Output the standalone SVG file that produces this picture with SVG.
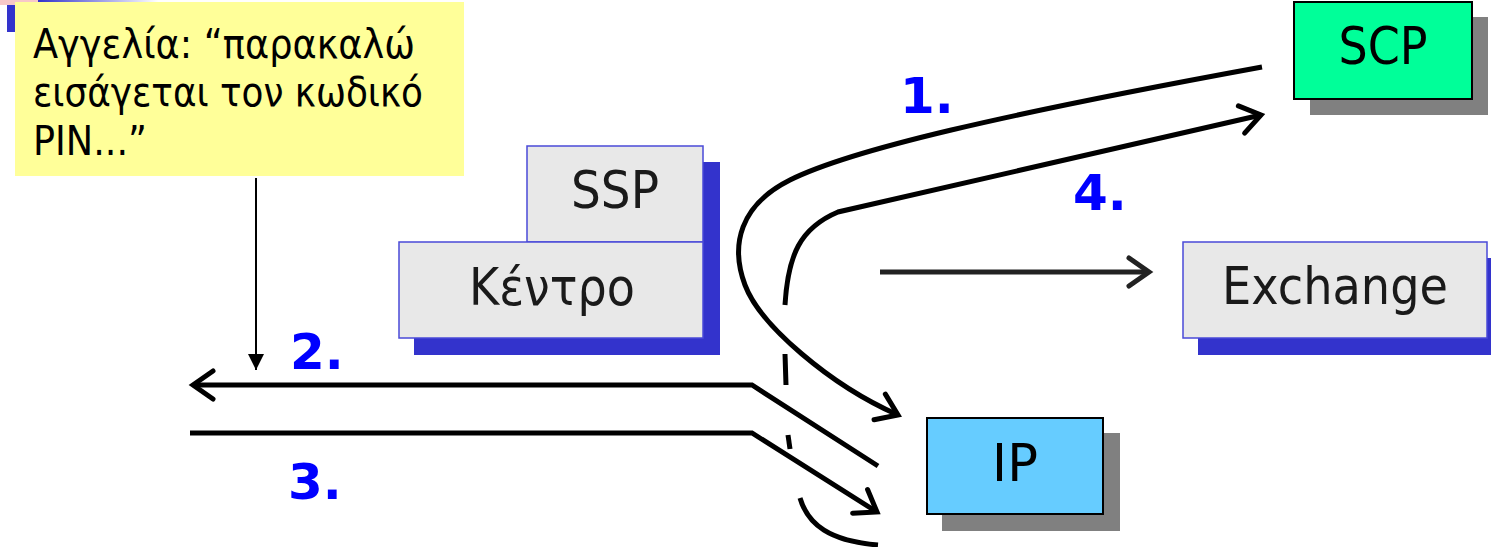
<svg xmlns="http://www.w3.org/2000/svg" width="1491" height="547" viewBox="0 0 1491 547">
<style>
.lbl{font-family:"DejaVu Sans","Liberation Sans",sans-serif;font-size:51px;fill:#1a1a1a;text-anchor:middle}
.note{font-family:"DejaVu Sans","Liberation Sans",sans-serif;font-size:40px;fill:#000}
.num{font-family:"DejaVu Sans","Liberation Sans",sans-serif;font-size:50px;font-weight:bold;fill:#0000FF}
.gbox{fill:#E8E8E8;stroke:#4a4ad8;stroke-width:1.5}
.bshadow{fill:#3333CC}
.gshadow{fill:#808080}
.conn{fill:none;stroke:#000;stroke-width:5}
</style>
<defs>
<marker id="open" markerUnits="userSpaceOnUse" markerWidth="40" markerHeight="40" refX="0" refY="0" viewBox="-30 -20 40 40" orient="auto">
<path d="M -20,-14 L 0,0 L -20,14" fill="none" stroke="#000" stroke-width="5" stroke-linecap="round" stroke-linejoin="miter"/>
</marker>
<marker id="open2" markerUnits="userSpaceOnUse" markerWidth="40" markerHeight="40" refX="0" refY="0" viewBox="-30 -20 40 40" orient="auto">
<path d="M -20,-14 L 0,0 L -20,14" fill="none" stroke="#222" stroke-width="5" stroke-linecap="round"/>
</marker>
<marker id="tri" markerUnits="userSpaceOnUse" markerWidth="22" markerHeight="22" refX="0" refY="0" viewBox="-18 -9 22 18" orient="auto">
<path d="M -16,-8 L 0,0 L -16,8 Z" fill="#000"/>
</marker>
<linearGradient id="topg" x1="0" x2="1" y1="0" y2="0">
<stop offset="0" stop-color="#3333CC"/>
<stop offset="1" stop-color="#ffffff"/>
</linearGradient>
</defs>
<rect width="1491" height="547" fill="#fff"/>
<g id="corner">
<rect x="0" y="0" width="38" height="5" fill="#f7c8c8"/>
<rect x="38" y="0" width="120" height="5" fill="url(#topg)"/>
<rect x="7" y="5" width="10" height="27" fill="#3333CC"/>
</g>
<g id="connectors">
<path class="conn" d="M 1262,67 C 1000,115 850,150 790,180 C 740,205 730,245 745,285 C 760,325 830,385 898,415" marker-end="url(#open)"/>
<path class="conn" d="M 785,305 C 788,255 800,228 838,212 L 1261,115" marker-end="url(#open)"/>
<path class="conn" d="M 785,354 L 786,385"/>
<path class="conn" d="M 788,435 L 790,449"/>
<path class="conn" d="M 800,498 C 808,525 830,541 878,545"/>
<path class="conn" d="M 878,466 L 752,385 L 193,385" marker-end="url(#open)"/>
<path class="conn" d="M 190,433 L 752,433 L 877,512" marker-end="url(#open)"/>
<path d="M 880,272 L 1149,272" fill="none" stroke="#222" stroke-width="5" marker-end="url(#open2)"/>
<path d="M 256,178 L 256,370" fill="none" stroke="#000" stroke-width="2" marker-end="url(#tri)"/>
</g>
<g id="note">
<rect x="15" y="2" width="449" height="174" fill="#FFFF99"/>
<text class="note" x="33" y="58" textLength="382" lengthAdjust="spacingAndGlyphs">Αγγελία: “παρακαλώ</text>
<text class="note" x="33" y="106" textLength="390" lengthAdjust="spacingAndGlyphs">εισάγεται τον κωδικό</text>
<text class="note" x="33" y="155" textLength="114" lengthAdjust="spacingAndGlyphs">PIN...”</text>
</g>
<g id="ssp">
<rect class="bshadow" x="543" y="162" width="177" height="96"/>
<rect class="gbox" x="527" y="146" width="176" height="96"/>
<text class="lbl" x="615" y="208" textLength="88" lengthAdjust="spacingAndGlyphs">SSP</text>
</g>
<g id="kentro">
<rect class="bshadow" x="414" y="258" width="306" height="97"/>
<rect class="gbox" x="399" y="242" width="304" height="96"/>
<text class="lbl" x="552" y="305" textLength="166" lengthAdjust="spacingAndGlyphs">Κέντρο</text>
</g>
<g id="scp">
<rect class="gshadow" x="1310" y="17" width="178" height="98"/>
<rect x="1294" y="2" width="178" height="97" fill="#00FF99" stroke="#000" stroke-width="2"/>
<text class="lbl" x="1383" y="64" style="fill:#000" textLength="89" lengthAdjust="spacingAndGlyphs">SCP</text>
</g>
<g id="exchange">
<rect class="bshadow" x="1198" y="258" width="300" height="97"/>
<rect class="gbox" x="1183" y="242" width="304" height="96"/>
<text class="lbl" x="1335" y="304" textLength="226" lengthAdjust="spacingAndGlyphs">Exchange</text>
</g>
<g id="ip">
<rect class="gshadow" x="942" y="433" width="178" height="98"/>
<rect x="927" y="418" width="176" height="96" fill="#66CCFF" stroke="#000" stroke-width="2"/>
<text class="lbl" x="1015" y="481" style="fill:#000">IP</text>
</g>
<g id="numbers">
<text class="num" x="900" y="113">1.</text>
<text class="num" x="290" y="369">2.</text>
<text class="num" x="288" y="499">3.</text>
<text class="num" x="1073" y="210">4.</text>
</g>
</svg>
